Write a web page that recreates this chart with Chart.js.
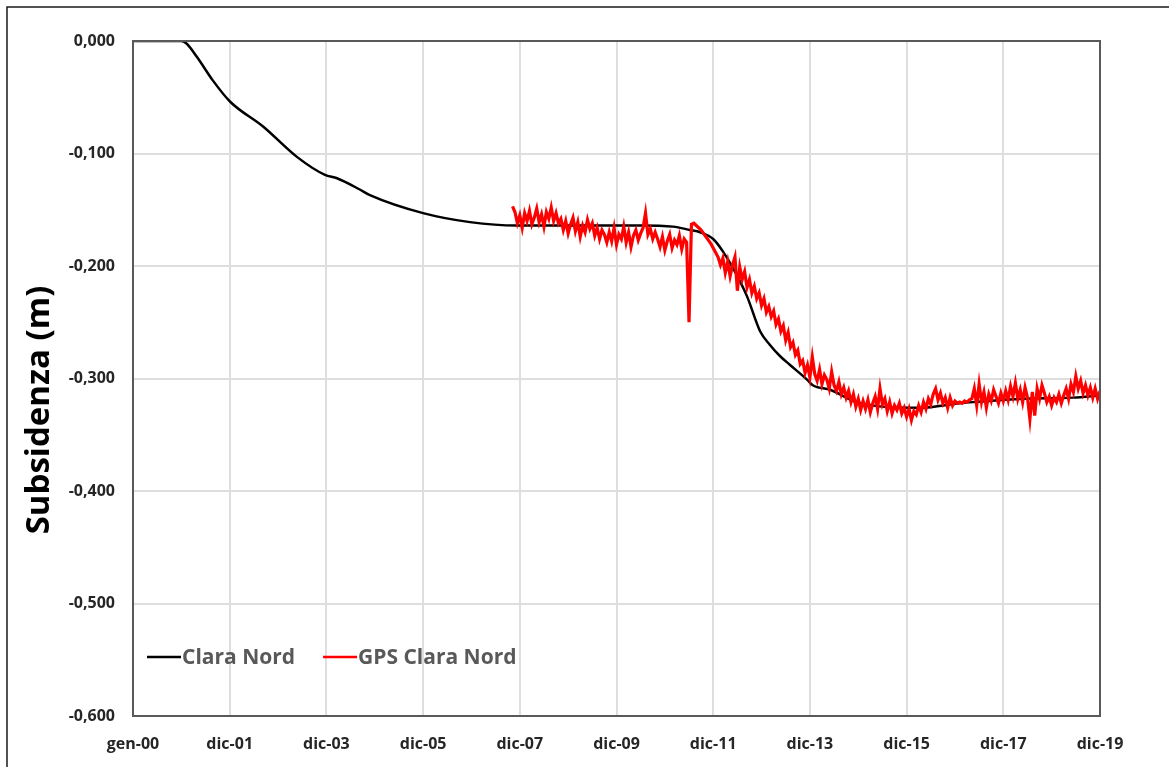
<!DOCTYPE html>
<html>
<head>
<meta charset="utf-8">
<script src="https://cdn.jsdelivr.net/npm/chart.js@4"></script>
<style>
  html, body { margin: 0; padding: 0; background: #fff; }
  #wrap { width: 1169px; height: 767px; position: relative; }
</style>
</head>
<body>
<div id="wrap"><canvas id="c" width="1169" height="767"></canvas></div>
<script>
// subsidence chart — modelled curve vs GPS record
const xTickYears = [2000, 2002, 2004, 2006, 2008, 2010, 2012, 2014, 2016, 2018, 2020];
const xTickLabels = ['gen-00', 'dic-01', 'dic-03', 'dic-05', 'dic-07', 'dic-09', 'dic-11', 'dic-13', 'dic-15', 'dic-17', 'dic-19'];
const seriesNames = ['Clara Nord', 'GPS Clara Nord'];
const yTitle = 'Subsidenza (m)';

// Clara Nord (model), decimal years / metres
const clYears = [2000.0, 2000.99, 2001.10, 2001.32, 2001.65, 2002.01, 2002.69, 2003.39, 2003.97, 2004.22, 2004.69, 2004.90,
  2006.00, 2006.97, 2007.94, 2009.66, 2010.49, 2011.17, 2011.52, 2011.73, 2012.00, 2012.20, 2012.45, 2012.70, 2012.97,
  2013.17, 2013.38, 2013.59, 2013.94, 2014.06, 2014.42, 2014.97, 2016.01, 2016.28, 2017.10, 2017.37, 2018.41, 2019.44, 2020.0];
const clValues = [0, 0, -0.002, -0.014, -0.035, -0.054, -0.076, -0.103, -0.119, -0.122, -0.132, -0.137,
  -0.153, -0.161, -0.164, -0.164, -0.164, -0.165, -0.168, -0.170, -0.176, -0.187, -0.205, -0.227, -0.258,
  -0.270, -0.280, -0.288, -0.301, -0.306, -0.310, -0.321, -0.326, -0.326, -0.322, -0.321, -0.318, -0.317, -0.315];

// GPS Clara Nord, sampled every 0.05 yr from gpsStart
const gpsStart = 2007.85, gpsStep = 0.05;
const gpsValues = [
  -0.147, -0.152, -0.162, -0.155, -0.166, -0.153, -0.160, -0.151, -0.163, -0.157, -0.149, -0.161, -0.154, -0.165, -0.152, -0.158, -0.148, -0.160, -0.153, -0.162,
  -0.158, -0.168, -0.160, -0.171, -0.163, -0.157, -0.169, -0.161, -0.174, -0.164, -0.170, -0.159, -0.167, -0.162, -0.173, -0.166, -0.176, -0.168, -0.172, -0.179,
  -0.170, -0.178, -0.166, -0.181, -0.172, -0.176, -0.165, -0.179, -0.170, -0.183, -0.173, -0.168, -0.177, -0.171, -0.166, -0.153, -0.172, -0.167, -0.176, -0.170,
  -0.176, -0.183, -0.174, -0.186, -0.178, -0.172, -0.184, -0.177, -0.181, -0.173, -0.185, -0.176, -0.179, -0.250, -0.163, -0.162, -0.164, -0.166, -0.168, -0.171,
  -0.174, -0.177, -0.180, -0.184, -0.188, -0.192, -0.199, -0.193, -0.206, -0.196, -0.209, -0.199, -0.192, -0.222, -0.201, -0.212, -0.205, -0.219, -0.212, -0.224,
  -0.218, -0.229, -0.224, -0.235, -0.229, -0.241, -0.236, -0.245, -0.240, -0.252, -0.247, -0.258, -0.253, -0.266, -0.259, -0.272, -0.268, -0.279, -0.275, -0.287,
  -0.284, -0.295, -0.288, -0.299, -0.281, -0.296, -0.302, -0.292, -0.305, -0.297, -0.301, -0.309, -0.294, -0.306, -0.311, -0.303, -0.314, -0.308, -0.317, -0.311,
  -0.321, -0.314, -0.325, -0.318, -0.328, -0.320, -0.327, -0.319, -0.330, -0.322, -0.316, -0.327, -0.309, -0.323, -0.318, -0.329, -0.321, -0.331, -0.324, -0.328,
  -0.322, -0.331, -0.326, -0.334, -0.327, -0.337, -0.329, -0.332, -0.324, -0.330, -0.321, -0.327, -0.318, -0.323, -0.314, -0.309, -0.319, -0.313, -0.322, -0.317,
  -0.326, -0.317, -0.324, -0.320, -0.322, -0.321, -0.322, -0.320, -0.321, -0.319, -0.318, -0.309, -0.324, -0.305, -0.321, -0.312, -0.326, -0.314, -0.320, -0.310,
  -0.316, -0.322, -0.313, -0.320, -0.311, -0.319, -0.307, -0.316, -0.304, -0.318, -0.310, -0.321, -0.308, -0.317, -0.336, -0.312, -0.333, -0.309, -0.318, -0.306,
  -0.313, -0.321, -0.316, -0.324, -0.317, -0.321, -0.314, -0.322, -0.315, -0.309, -0.318, -0.305, -0.312, -0.298, -0.309, -0.302, -0.313, -0.306, -0.315, -0.308,
  -0.317, -0.309, -0.318, -0.311
];

const FONT = "'Open Sans', 'DejaVu Sans', sans-serif";
const clData = clYears.map((x, i) => ({ x, y: clValues[i] }));
const gpsData = gpsValues.map((y, i) => ({ x: +(gpsStart + i * gpsStep).toFixed(2), y }));

// plot frame (top/right sides), outer picture frame, axis title and the in-plot legend
const framePlugin = {
  id: 'frame',
  beforeDraw(chart) {
    const ctx = chart.ctx;
    ctx.save(); ctx.fillStyle = '#fff'; ctx.fillRect(0, 0, chart.width, chart.height);
    ctx.strokeStyle = '#1a1a1a'; ctx.lineWidth = 1.5;
    ctx.beginPath(); ctx.moveTo(7, chart.height + 5); ctx.lineTo(7, 7); ctx.lineTo(chart.width + 5, 7); ctx.stroke();
    // y title, sits a bit below the plot centre as in the original
    ctx.translate(40, 410); ctx.rotate(-Math.PI / 2);
    ctx.font = "bold 33px " + FONT; ctx.fillStyle = '#000'; ctx.textAlign = 'center'; ctx.textBaseline = 'middle';
    ctx.fillText(yTitle, 0, 0);
    ctx.restore();
  },
  afterDraw(chart) {
    const { ctx, chartArea: a } = chart;
    ctx.save(); ctx.strokeStyle = '#595959'; ctx.lineWidth = 2;
    ctx.strokeRect(a.left, a.top, a.right - a.left, a.bottom - a.top);
    // legend
    let x = a.left + 14; const y = a.bottom - 59;
    ctx.font = "bold 21px " + FONT; ctx.textBaseline = 'middle';
    chart.data.datasets.forEach(ds => {
      ctx.strokeStyle = ds.borderColor; ctx.lineWidth = 2.5;
      ctx.beginPath(); ctx.moveTo(x, y); ctx.lineTo(x + 34, y); ctx.stroke();
      ctx.fillStyle = '#595959'; ctx.fillText(ds.label, x + 35, y + 1);
      x += 35 + ctx.measureText(ds.label).width + 28;
    });
    ctx.restore();
  }
};

new Chart(document.getElementById('c'), {
  type: 'line',
  data: {
    datasets: [
      { label: seriesNames[0], data: clData, borderColor: '#000', borderWidth: 2.5, pointRadius: 0,
        cubicInterpolationMode: 'monotone', order: 2 },
      { label: seriesNames[1], data: gpsData, borderColor: '#ff0000', borderWidth: 3.2, pointRadius: 0,
        tension: 0, order: 1 }
    ]
  },
  options: {
    responsive: false, animation: false, events: [],
    layout: { padding: { left: 0, top: 41, right: 69, bottom: 0 } },
    plugins: { legend: { display: false }, tooltip: { enabled: false } },
    scales: {
      x: {
        type: 'linear', min: 2000, max: 2020,
        afterBuildTicks: s => { s.ticks = xTickYears.map(v => ({ value: v })); },
        afterFit: s => { s.height = 51; },
        grid: { color: '#dedede', lineWidth: 2, drawTicks: false },
        border: { color: '#595959', width: 2 },
        ticks: { padding: 19, color: '#262626', font: { family: FONT, size: 16, weight: 'bold' },
          maxRotation: 0, autoSkip: false,
          callback: v => xTickLabels[xTickYears.indexOf(v)] }
      },
      y: {
        min: -0.6, max: 0,
        afterFit: s => { s.width = 133; },
        grid: { color: '#dedede', lineWidth: 2, drawTicks: false },
        border: { color: '#595959', width: 2 },
        ticks: { stepSize: 0.1, padding: 18, color: '#262626', font: { family: FONT, size: 16, weight: 'bold' },
          callback: v => (Math.round(v * 1000) / 1000).toFixed(3).replace('.', ',').replace(/^-0,000$/, '0,000') }
      }
    }
  },
  plugins: [framePlugin]
});
</script>
</body>
</html>
